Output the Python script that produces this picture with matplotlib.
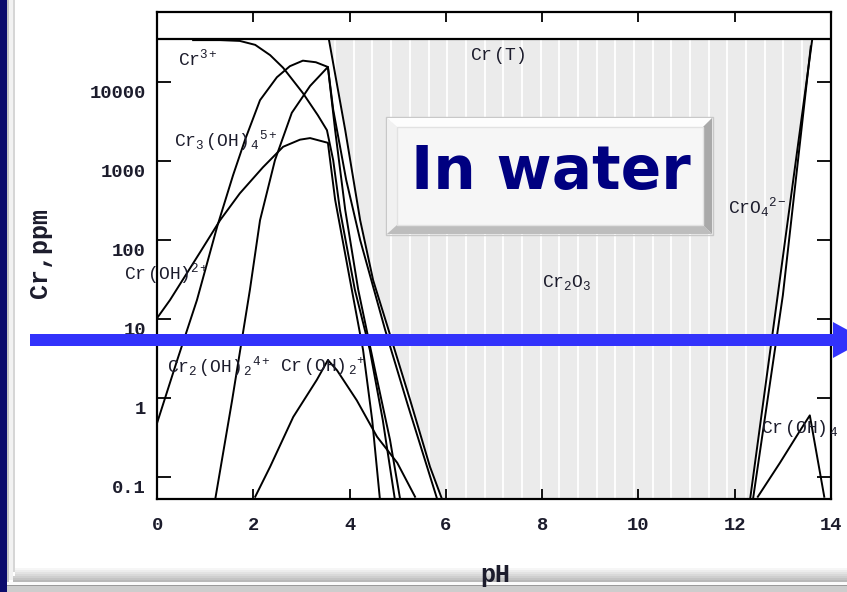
import numpy as np
import matplotlib
matplotlib.use('Agg')
import matplotlib.pyplot as plt
from matplotlib.patches import Polygon, Rectangle
from matplotlib.transforms import ScaledTranslation

plt.rcParams['font.family'] = ['Liberation Mono', 'DejaVu Sans Mono']
plt.rcParams['mathtext.fontset'] = 'custom'
plt.rcParams['mathtext.rm'] = 'Liberation Mono'
plt.rcParams['mathtext.it'] = 'Liberation Mono'
plt.rcParams['mathtext.bf'] = 'Liberation Mono:bold'

W, H = 847, 592

# axes
ph_ticks = [0, 2, 4, 6, 8, 10, 12, 14]
ppm_ticks = [0.1, 1, 10, 100, 1000, 10000]
ppm_tick_labels = ['0.1', '1', '10', '100', '1000', '10000']

# curves: pH and log10(Cr, ppm)
sat_log = 4.54  # upper limit (top horizontal line)

crT_left_ph = [3.57, 3.91, 4.22, 4.49, 4.78, 5.26, 5.67, 5.92]
crT_left_log = [4.54, 3.39, 2.25, 1.49, 0.92, -0.03, -0.87, -1.28]
crT_right_ph = [12.32, 12.88, 13.61]
crT_right_log = [-1.28, 1.24, 4.54]

cr3_ph = [0.75, 1.31, 1.72, 2.04, 2.35, 2.62, 3.03, 3.34, 3.53, 3.66, 3.80, 4.11, 4.42, 4.69, 4.94]
cr3_log = [4.53, 4.53, 4.52, 4.47, 4.34, 4.18, 3.86, 3.58, 3.39, 3.01, 2.38, 1.37, 0.61, -0.28, -1.28]

cr3oh4_ph = [0, 0.27, 0.89, 1.31, 1.72, 2.20, 2.62, 2.97, 3.18, 3.55, 3.70, 4.01, 4.28, 4.47, 4.63]
cr3oh4_log = [1.01, 1.24, 1.84, 2.25, 2.59, 2.92, 3.18, 3.27, 3.29, 3.23, 2.51, 1.49, 0.61, -0.28, -1.28]

croh_ph = [0, 0.42, 0.83, 1.25, 1.58, 1.83, 2.14, 2.49, 2.76, 3.03, 3.30, 3.55,
           3.66, 3.93, 4.22, 4.74, 5.21, 5.63, 5.82]
croh_log = [-0.32, 0.48, 1.24, 2.17, 2.82, 3.27, 3.77, 4.06, 4.20, 4.27, 4.25, 4.19,
            3.65, 2.76, 2.00, 0.86, -0.09, -0.91, -1.28]

cr2oh2_ph = [1.21, 1.56, 1.93, 2.14, 2.45, 2.80, 3.18, 3.55, 3.70, 3.91, 4.18, 4.53, 4.84, 5.05]
cr2oh2_log = [-1.28, -0.03, 1.37, 2.25, 3.01, 3.61, 3.95, 4.19, 3.39, 2.38, 1.37, 0.35, -0.53, -1.28]

croh2_ph = [2.04, 2.35, 2.83, 3.32, 3.55, 3.74, 4.15, 4.57, 4.99, 5.36]
croh2_log = [-1.25, -0.87, -0.24, 0.23, 0.48, 0.35, -0.03, -0.49, -0.82, -1.25]

cro4_ph = [12.38, 13.00, 13.58]
cro4_log = [-1.28, 1.30, 4.45]

croh4_ph = [12.48, 12.94, 13.36, 13.56, 13.86]
croh4_log = [-1.25, -0.82, -0.41, -0.22, -1.25]

# labels: text, pH, log10 ppm (baseline)
labels = [
    (r'Cr$^{3+}$', 0.44, 4.215),
    (r'Cr$_{3}\,$(OH)$\,_{4}{}^{5+}$', 0.35, 3.18),
    (r'Cr$\,$(OH)$^{2+}$', -0.69, 1.50),
    (r'Cr$_{2}\,$(OH)$\,_{2}{}^{4+}$', 0.21, 0.33),
    (r'Cr$\,$(OH)$\,_{2}{}^{+}$', 2.56, 0.33),
    (r'Cr$\,$(T)', 6.50, 4.28),
    (r'Cr$_{2}$O$_{3}$', 8.0, 1.40),
    (r'CrO$_{4}{}^{2-}$', 11.86, 2.34),
    (r'Cr$\,$(OH)$\,_{4}$', 12.55, -0.44),
]


def p(v):
    return np.power(10.0, v)


def fx(x):
    return x / W


def fy(y):
    return 1 - y / H


def frect(x0, y0, x1, y1, **kw):
    fig.add_artist(Rectangle((fx(x0), fy(y1)), (x1 - x0) / W, (y1 - y0) / H,
                             transform=fig.transFigure, **kw))


def fpoly(pts, **kw):
    fig.add_artist(Polygon([(fx(a), fy(b)) for a, b in pts], closed=True,
                           transform=fig.transFigure, **kw))


fig = plt.figure(figsize=(W / 100, H / 100), dpi=100)
fig.patch.set_facecolor('white')

ax = fig.add_axes([157 / W, 1 - 499 / H, 674 / W, 487 / H])
ax.set_yscale('log')
ax.set_xlim(0, 14)
ax.set_ylim(p(-1.2785), p(4.886))

# Cr2O3 solid region (grey, white stripes)
region = list(zip(crT_left_ph, p(np.array(crT_left_log)))) + \
    list(zip(crT_right_ph, p(np.array(crT_right_log))))
region.append((crT_left_ph[0], p(sat_log)))
gray = Polygon(region, closed=True, facecolor='#ebebeb', edgecolor='none', zorder=1)
ax.add_patch(gray)
stripes = ax.vlines(np.arange(3.70, 13.7, 0.388), p(-1.3), p(sat_log),
                    colors='white', lw=1.3, zorder=1.5)
stripes.set_clip_path(gray)

lk = dict(color='black', lw=1.4, zorder=3)
ax.axhline(p(sat_log), color='black', lw=1.6, zorder=3)
ax.plot(crT_left_ph, p(np.array(crT_left_log)), **lk)
ax.plot(crT_right_ph, p(np.array(crT_right_log)), **lk)
for xs, ys in [(cr3_ph, cr3_log), (cr3oh4_ph, cr3oh4_log), (croh_ph, croh_log),
               (cr2oh2_ph, cr2oh2_log), (croh2_ph, croh2_log),
               (cro4_ph, cro4_log), (croh4_ph, croh4_log)]:
    ax.plot(xs, p(np.array(ys)), **lk)

txt_color = '#1c1c2c'
for s, x, y in labels:
    ax.text(x, p(y), s, fontsize=13, color=txt_color, ha='left', va='baseline',
            zorder=4, clip_on=False)

# ticks
ax.set_xticks(ph_ticks)
ax.set_xticklabels([str(t) for t in ph_ticks])
ax.set_yticks(ppm_ticks)
ax.set_yticklabels(ppm_tick_labels)
ax.yaxis.set_minor_locator(matplotlib.ticker.NullLocator())
ax.tick_params(axis='y', which='major', direction='in', length=10, width=1.3,
               right=True, pad=8, labelsize=13.5, labelcolor=txt_color)
ax.tick_params(axis='x', which='major', direction='in', length=7, width=1.3,
               top=True, pad=13, labelsize=13.5, labelcolor=txt_color)
for lab in ax.get_xticklabels() + ax.get_yticklabels():
    lab.set_fontweight('bold')
off = ScaledTranslation(0, -0.095, fig.dpi_scale_trans)
for lab in ax.get_yticklabels():
    lab.set_transform(lab.get_transform() + off)
for sp in ax.spines.values():
    sp.set_linewidth(1.6)

# slide frame
frect(0, 0, 7, H, facecolor='#0b0b6c', edgecolor='none')
frect(7, 0, 9, 582, facecolor='#c4c4c4', edgecolor='none')
frect(9, 0, 13, 580, facecolor='#f2f2f2', edgecolor='none')
frect(13, 0, 15, 572, facecolor='#d6d6d6', edgecolor='none')
shades = ['#f6f6f6', '#ededed', '#e3e3e3', '#d9d9d9', '#cfcfcf', '#c4c4c4', '#b9b9b9']
for i, c in enumerate(shades):
    frect(15 - 2 * (i > 3), 568 + 2 * i, W, 570 + 2 * i, facecolor=c, edgecolor='none')
frect(7, 582, W, 585, facecolor='#fbfbfb', edgecolor='none')
frect(7, 585, W, H, facecolor='#cdcdcd', edgecolor='none')
frect(7, 585, W, 586, facecolor='#9a9a9a', edgecolor='none')

fig.text(fx(495), fy(575), 'pH', fontsize=18, fontweight='bold', color=txt_color,
         ha='center', va='center', zorder=10)
fig.text(fx(40), fy(253), 'Cr,ppm', fontsize=18, fontweight='bold', color=txt_color,
         ha='center', va='center', rotation=90, zorder=10)

# "In water" button
frect(386, 117, 713, 235, facecolor='none', edgecolor='#c8c8c8', lw=1, zorder=5)
fpoly([(387, 118), (712, 118), (703, 127), (397, 127)], facecolor='#fdfdfd', edgecolor='none', zorder=5)
fpoly([(387, 118), (397, 127), (397, 225), (387, 234)], facecolor='#f1f1f1', edgecolor='none', zorder=5)
fpoly([(712, 118), (712, 234), (703, 225), (703, 127)], facecolor='#a9a9a9', edgecolor='none', zorder=5)
fpoly([(387, 234), (712, 234), (703, 225), (397, 225)], facecolor='#bdbdbd', edgecolor='none', zorder=5)
frect(397, 127, 703, 225, facecolor='#f6f6f6', edgecolor='#e2e2e2', lw=1, zorder=5)
fig.text(fx(551), fy(172), 'In water', fontsize=43, fontweight='bold', color='#000080',
         family='DejaVu Sans', ha='center', va='center', zorder=6)

# blue arrow
frect(30, 334, 834, 346, facecolor='#3232fb', edgecolor='none', zorder=7)
fpoly([(833, 322), (833, 358), (866, 340)], facecolor='#3232fb', edgecolor='none', zorder=7)

fig.savefig('out.png', dpi=100)
